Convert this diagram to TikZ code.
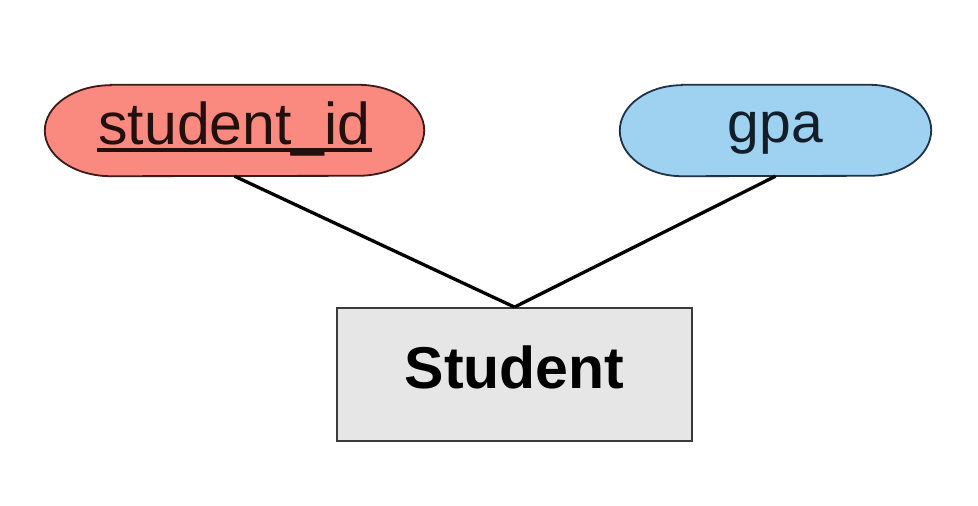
\documentclass[tikz,border=0pt]{standalone}
\usepackage{fontspec}
\setmainfont{Liberation Sans}
\usetikzlibrary{backgrounds}
\definecolor{salmonfill}{HTML}{FA8A7F}
\definecolor{salmonline}{HTML}{3B1A18}
\definecolor{skyfill}{HTML}{9ED2F0}
\definecolor{skyline}{HTML}{1E3348}
\definecolor{boxfill}{HTML}{E6E6E6}
\definecolor{boxline}{HTML}{3A3A3A}
\newsavebox{\ulinebox}
\newcommand{\keyuline}[1]{\sbox{\ulinebox}{#1}%
  \rlap{\kern-1pt\rule[-7.6pt]{\dimexpr\wd\ulinebox+2pt\relax}{3.3pt}}\usebox{\ulinebox}}
\tikzset{
  attrnode/.style={inner sep=0pt, minimum width=#1, minimum height=91pt, text depth=0pt},
  entitybox/.style={draw=boxline, line width=1.8pt, fill=boxfill, inner sep=0pt,
    minimum width=355pt, minimum height=133pt, text height=42pt, text depth=15pt,
    font=\fontsize{59}{70}\selectfont\bfseries},
  connector/.style={line width=3.3pt, black},
}
\newcommand{\stadiumshape}[4]{% node, rx, fill, line
  \draw[fill=#3, draw=#4, line width=1.8pt]
    ([xshift=#2]#1.north west) -- ([xshift=-#2]#1.north east)
    arc[start angle=90, end angle=-90, x radius=#2, y radius=45.5pt]
    -- ([xshift=#2]#1.south west)
    arc[start angle=270, end angle=90, x radius=#2, y radius=45.5pt] -- cycle;}
\begin{document}
\begin{tikzpicture}
\useasboundingbox (0pt,0pt) rectangle (978pt,-506pt);
\node[attrnode=379pt, text height=27pt, text=salmonline!60!black,
  font=\fontsize{59}{70}\selectfont] (sid) at (234.5pt,-130.5pt) {\keyuline{student\_id}};
\node[attrnode=311pt, text height=23pt, text=skyline!60!black,
  font=\fontsize{57}{68}\selectfont] (gpa) at (775.5pt,-130.5pt) {gpa};
\node[entitybox] (stu) at (514.5pt,-374.5pt) {Student};
\begin{scope}[on background layer]
  \fill[white] (0pt,0pt) rectangle (978pt,-506pt);
  \stadiumshape{sid}{66pt}{salmonfill}{salmonline}
  \stadiumshape{gpa}{62pt}{skyfill}{skyline}
\end{scope}
\draw[connector] (sid.south) -- (stu.north);
\draw[connector] (gpa.south) -- (stu.north);
\end{tikzpicture}
\end{document}
